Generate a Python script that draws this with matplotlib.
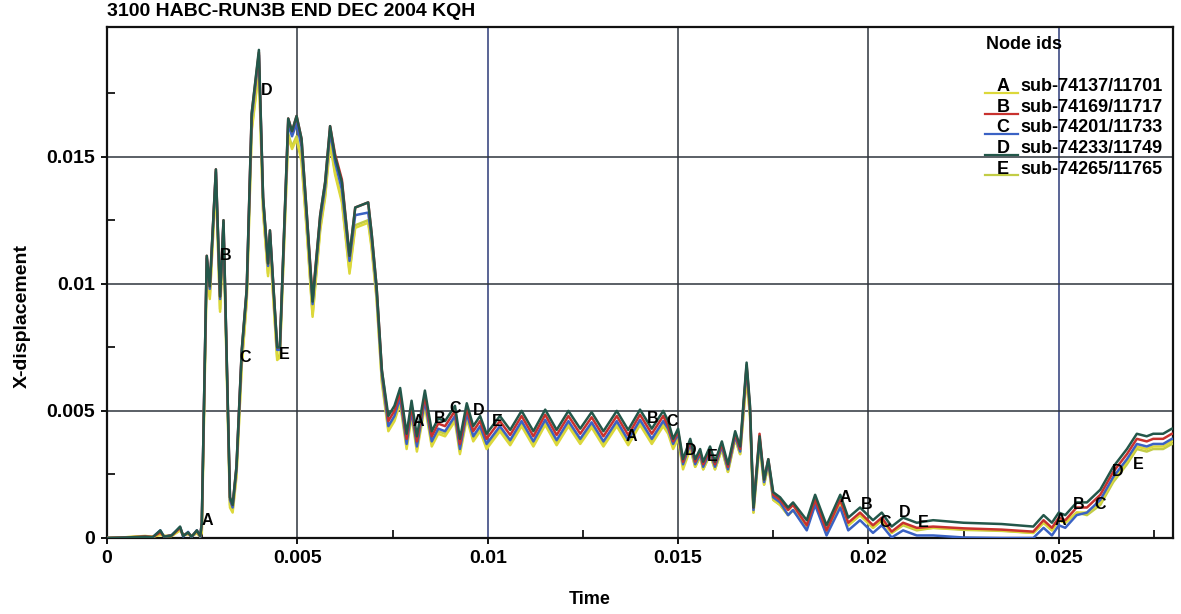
import numpy as np
import matplotlib
matplotlib.use("Agg")
import matplotlib.pyplot as plt
from matplotlib.ticker import FixedLocator, FixedFormatter

plt.rcParams['font.family'] = ['Liberation Sans', 'DejaVu Sans']
plt.rcParams['font.weight'] = 'bold'

# time axis (s), shared by all nodes
t_s = [0.0, 0.0005, 0.0010, 0.0012, 0.0014, 0.0015, 0.0017, 0.00192, 0.0020, 0.00213, 0.00222, 0.00236, 0.00245, 0.00249,
       0.00262, 0.00270, 0.00286, 0.00297, 0.00306, 0.00323, 0.00330, 0.00340, 0.00354, 0.00367, 0.00380, 0.00399, 0.00410, 0.00423, 0.00428, 0.00447, 0.00454,
       0.00476, 0.00486, 0.00498, 0.00511, 0.00525, 0.00540, 0.00560, 0.00573, 0.00586, 0.00599, 0.00617, 0.00637, 0.00652, 0.00686, 0.00695, 0.00708, 0.00722,
       0.00739, 0.00755, 0.00770, 0.00787, 0.00800, 0.00814, 0.00835, 0.00853, 0.00870, 0.00888, 0.00914, 0.00927, 0.00945, 0.00962, 0.00980, 0.00997, 0.01032, 0.01059,
       0.01089, 0.01120, 0.01151, 0.01181, 0.01212, 0.01243, 0.01273, 0.01304, 0.01339, 0.01369, 0.01400, 0.01431, 0.01461,
       0.01474, 0.01487, 0.01500, 0.01513, 0.01532, 0.01545, 0.01558, 0.01566, 0.01584, 0.01597, 0.01615, 0.01631, 0.01650, 0.01663, 0.01680, 0.01689, 0.01698,
       0.01714, 0.01726, 0.01737, 0.01750, 0.01768, 0.01789, 0.01802, 0.01838, 0.01860, 0.01890, 0.01926, 0.01947, 0.01978, 0.02012, 0.02035, 0.02061, 0.02091, 0.02127, 0.02170, 0.02250, 0.02350, 0.02433,
       0.02460, 0.02482, 0.02500, 0.02517, 0.02547, 0.02574, 0.02609, 0.02643, 0.02679, 0.02705, 0.02731, 0.02748, 0.02774, 0.02797, 0.02800]

# X-displacement per node
disp_a = [0.0, 0.00003, 0.00008, 0.00005, 0.00012, 0.00008, 0.00008, 0.00030, 0.00012, 0.00015, 0.00008, 0.00018, 0.00006, 0.0002,
          0.0104, 0.0094, 0.0140, 0.0089, 0.0120, 0.0012, 0.0010, 0.0024, 0.0068, 0.0093, 0.0160, 0.0184, 0.0128, 0.0103, 0.0115, 0.0070, 0.0071,
          0.0158, 0.0153, 0.0157, 0.0148, 0.0120, 0.0087, 0.0121, 0.0134, 0.0155, 0.0143, 0.0132, 0.0104, 0.0122, 0.0124, 0.0114, 0.0094, 0.0061,
          0.0042, 0.0046, 0.0053, 0.0035, 0.0048, 0.0034, 0.0052, 0.0036, 0.0041, 0.0040, 0.0046, 0.0033, 0.0047, 0.0038, 0.0042, 0.0035, 0.0042, 0.00365,
          0.0044, 0.0036, 0.00445, 0.00365, 0.0044, 0.0037, 0.00435, 0.0036, 0.0044, 0.00365, 0.00445, 0.0037, 0.0044,
          0.0041, 0.0035, 0.0039, 0.0027, 0.0035, 0.0028, 0.0032, 0.0027, 0.0033, 0.0027, 0.0035, 0.0026, 0.0039, 0.0033, 0.0063, 0.0048, 0.0010,
          0.0037, 0.0021, 0.0029, 0.0015, 0.0013, 0.0009, 0.0011, 0.0004, 0.0014, 0.0002, 0.0014, 0.0005, 0.0009, 0.0004, 0.0007, 0.0002, 0.00055, 0.00035, 0.0004, 0.00035, 0.0003, 0.0002,
          0.0006, 0.0003, 0.0007, 0.0006, 0.0010, 0.0010, 0.0014, 0.0023, 0.0030, 0.0036, 0.0035, 0.0036, 0.0036, 0.0038, 0.0038]

disp_b = [0.0, 0.00002, 0.00006, 0.00004, 0.00022, 0.00006, 0.00010, 0.00040, 0.00010, 0.00020, 0.00006, 0.00028, 0.00008, 0.0006,
          0.0111, 0.0099, 0.0145, 0.0095, 0.0125, 0.0016, 0.0013, 0.0028, 0.0074, 0.0098, 0.0167, 0.0191, 0.0134, 0.0108, 0.0121, 0.0075, 0.0075,
          0.0165, 0.0160, 0.0166, 0.0157, 0.0127, 0.0094, 0.0127, 0.0140, 0.0162, 0.0151, 0.0141, 0.0111, 0.0130, 0.0132, 0.0120, 0.0099, 0.0066,
          0.0046, 0.0050, 0.0057, 0.0039, 0.0052, 0.0038, 0.0056, 0.0040, 0.0045, 0.0044, 0.0050, 0.0037, 0.0051, 0.0042, 0.0046, 0.0039, 0.0046, 0.00405,
          0.0048, 0.0040, 0.00485, 0.00405, 0.0048, 0.0041, 0.00475, 0.0040, 0.0048, 0.00405, 0.00485, 0.0041, 0.0048,
          0.0044, 0.0038, 0.0042, 0.0030, 0.0038, 0.0030, 0.0034, 0.0029, 0.0035, 0.0029, 0.0037, 0.0028, 0.0041, 0.0035, 0.0068, 0.0051, 0.0012,
          0.0041, 0.0023, 0.0031, 0.0017, 0.0015, 0.0011, 0.0013, 0.0005, 0.0015, 0.0003, 0.0015, 0.0006, 0.0010, 0.0005, 0.0008, 0.00025, 0.0006, 0.0004, 0.00045, 0.00038, 0.00033, 0.00025,
          0.0007, 0.0004, 0.0008, 0.0007, 0.0012, 0.0012, 0.0017, 0.0026, 0.0033, 0.0039, 0.0038, 0.0039, 0.0039, 0.0041, 0.0041]

disp_c = [0.0, 0.00001, 0.00004, 0.00003, 0.00030, 0.00004, 0.00012, 0.00042, 0.00006, 0.00024, 0.00003, 0.00030, 0.00005, 0.0006,
          0.0110, 0.0098, 0.0144, 0.0094, 0.0124, 0.0015, 0.0012, 0.0027, 0.0073, 0.0097, 0.0165, 0.0190, 0.0133, 0.0107, 0.0120, 0.0074, 0.0074,
          0.0163, 0.0158, 0.0163, 0.0154, 0.0125, 0.0092, 0.0125, 0.0138, 0.0160, 0.0148, 0.0137, 0.0109, 0.0127, 0.0128, 0.0118, 0.0097, 0.0064,
          0.0044, 0.0048, 0.0055, 0.0037, 0.0050, 0.0036, 0.0054, 0.0038, 0.0043, 0.0042, 0.0048, 0.0035, 0.0049, 0.0040, 0.0044, 0.0037, 0.0044, 0.00385,
          0.0046, 0.0038, 0.00465, 0.00385, 0.0046, 0.0039, 0.00455, 0.0038, 0.0046, 0.00385, 0.00465, 0.0039, 0.0046,
          0.0043, 0.0037, 0.0041, 0.0029, 0.0037, 0.0029, 0.0033, 0.0028, 0.0034, 0.0028, 0.0036, 0.0027, 0.0040, 0.0034, 0.0067, 0.0050, 0.0011,
          0.0039, 0.0022, 0.0030, 0.0016, 0.0014, 0.0009, 0.0011, 0.0003, 0.0013, 0.0001, 0.0012, 0.0003, 0.0007, 0.0002, 0.0005, 0.00002, 0.0003, 0.0001, 0.0001, 0.00002, 0.0, 0.0,
          0.0004, 0.0001, 0.0005, 0.0004, 0.0009, 0.0010, 0.0015, 0.0024, 0.0031, 0.0037, 0.0036, 0.0037, 0.0037, 0.0039, 0.0039]

disp_d = [0.0, 0.00002, 0.00005, 0.00003, 0.00030, 0.00005, 0.00010, 0.00045, 0.00008, 0.00022, 0.00005, 0.00030, 0.00008, 0.0006,
          0.0111, 0.0099, 0.0145, 0.0095, 0.0125, 0.0016, 0.0013, 0.0028, 0.0074, 0.0098, 0.0167, 0.0192, 0.0134, 0.0108, 0.0121, 0.0075, 0.0075,
          0.0165, 0.0160, 0.0166, 0.0157, 0.0127, 0.0093, 0.0127, 0.0140, 0.0162, 0.0150, 0.0140, 0.0111, 0.0130, 0.0132, 0.0120, 0.0099, 0.0066,
          0.0048, 0.0052, 0.0059, 0.0041, 0.0054, 0.0040, 0.0058, 0.0042, 0.0047, 0.0046, 0.0052, 0.0039, 0.0053, 0.0044, 0.0048, 0.0041, 0.0048, 0.00425,
          0.0050, 0.0042, 0.00505, 0.00425, 0.0050, 0.0043, 0.00495, 0.0042, 0.0050, 0.00425, 0.00505, 0.0043, 0.0050,
          0.0046, 0.0039, 0.0043, 0.0031, 0.0039, 0.0031, 0.0035, 0.0030, 0.0036, 0.0030, 0.0038, 0.0029, 0.0042, 0.0036, 0.0069, 0.0052, 0.0012,
          0.0040, 0.0023, 0.0031, 0.0018, 0.0016, 0.0012, 0.0014, 0.0007, 0.0017, 0.0005, 0.0017, 0.0008, 0.0012, 0.0007, 0.0010, 0.00045, 0.0008, 0.0006, 0.0007, 0.0006, 0.00055, 0.00045,
          0.0009, 0.0006, 0.0010, 0.0009, 0.0014, 0.0014, 0.0019, 0.0028, 0.0035, 0.0041, 0.0040, 0.0041, 0.0041, 0.0043, 0.0043]

disp_e = [0.0, 0.00003, 0.00007, 0.00005, 0.00015, 0.00008, 0.00008, 0.00032, 0.00012, 0.00016, 0.00008, 0.00020, 0.00006, 0.0003,
          0.0106, 0.0095, 0.0141, 0.0090, 0.0121, 0.0013, 0.0011, 0.0025, 0.0069, 0.0094, 0.0161, 0.0185, 0.0129, 0.0104, 0.0116, 0.0071, 0.0072,
          0.0159, 0.0154, 0.0158, 0.0149, 0.0121, 0.0088, 0.0122, 0.0135, 0.0156, 0.0144, 0.0133, 0.0105, 0.0123, 0.0125, 0.0115, 0.0095, 0.0062,
          0.0043, 0.0047, 0.0054, 0.0036, 0.0049, 0.0035, 0.0053, 0.0037, 0.0042, 0.0041, 0.0047, 0.0034, 0.0048, 0.0039, 0.0043, 0.0036, 0.0043, 0.00375,
          0.0045, 0.0037, 0.00455, 0.00375, 0.0045, 0.0038, 0.00445, 0.0037, 0.0045, 0.00375, 0.00455, 0.0038, 0.0045,
          0.0042, 0.0036, 0.0040, 0.0028, 0.0036, 0.0028, 0.0032, 0.0027, 0.0033, 0.0027, 0.0035, 0.0026, 0.0039, 0.0033, 0.0064, 0.0048, 0.0010,
          0.0037, 0.0021, 0.0029, 0.0015, 0.0013, 0.0009, 0.0011, 0.0004, 0.0014, 0.0002, 0.0014, 0.0005, 0.0009, 0.0004, 0.0007, 0.0002, 0.0005, 0.0003, 0.0004, 0.00032, 0.00028, 0.0002,
          0.0006, 0.0003, 0.0007, 0.0006, 0.0010, 0.0009, 0.0013, 0.0022, 0.0029, 0.0035, 0.0034, 0.0035, 0.0035, 0.0037, 0.0037]

node_letters = ['A', 'B', 'C', 'D', 'E']
node_names = ['sub-74137/11701', 'sub-74169/11717', 'sub-74201/11733', 'sub-74233/11749', 'sub-74265/11765']
node_colors = ['#dcd83a', '#c8322e', '#3a62c4', '#23574a', '#c2cc46']

# where the little letter markers sit on the curves
label_t = {
    'A': [0.00263, 0.00817, 0.01377, 0.01939, 0.02503],
    'B': [0.00313, 0.00875, 0.01434, 0.01996, 0.02551],
    'C': [0.00363, 0.00914, 0.01484, 0.02044, 0.02609],
    'D': [0.00420, 0.00975, 0.01532, 0.02096, 0.02656],
    'E': [0.00465, 0.01025, 0.01589, 0.02144, 0.02708],
}
label_v = {
    'A': [0.00067, 0.00457, 0.0040, 0.00161, 0.0007],
    'B': [0.0111, 0.0047, 0.0047, 0.0013, 0.0013],
    'C': [0.0071, 0.0051, 0.0046, 0.0006, 0.0013],
    'D': [0.0176, 0.0050, 0.00346, 0.0010, 0.0026],
    'E': [0.0072, 0.0046, 0.0032, 0.0006, 0.0029],
}

x_ticks = [0.0, 0.005, 0.01, 0.015, 0.02, 0.025]
x_ticklabels = ['0', '0.005', '0.01', '0.015', '0.02', '0.025']
y_ticks = [0.0, 0.005, 0.01, 0.015]
y_ticklabels = ['0', '0.005', '0.01', '0.015']
x_minor = [0.0025, 0.0075, 0.0125, 0.0175, 0.0225, 0.0275]
y_minor = [0.0025, 0.0075, 0.0125, 0.0175]

fig = plt.figure(figsize=(11.81, 6.14), dpi=100)
ax = fig.add_axes([107 / 1181, 1 - 538 / 614, 1066 / 1181, 511 / 614])

series = [disp_a, disp_b, disp_c, disp_d, disp_e]
# yellow ones first so the darker curves sit on top
for i in [4, 0, 2, 1, 3]:
    ax.plot(t_s, series[i], color=node_colors[i], lw=1.8, zorder=3)

for letter in node_letters:
    for tt, vv in zip(label_t[letter], label_v[letter]):
        ax.text(tt, vv, letter, fontsize=11.5, fontweight='bold', color='black',
                ha='center', va='center', zorder=5)

ax.set_xlim(0, 0.028)
ax.set_ylim(0, 0.0201)

ax.xaxis.set_major_locator(FixedLocator(x_ticks))
ax.xaxis.set_major_formatter(FixedFormatter(x_ticklabels))
ax.yaxis.set_major_locator(FixedLocator(y_ticks))
ax.yaxis.set_major_formatter(FixedFormatter(y_ticklabels))
ax.xaxis.set_minor_locator(FixedLocator(x_minor))
ax.yaxis.set_minor_locator(FixedLocator(y_minor))

ax.tick_params(which='major', direction='out', length=4.5, width=1.3, labelsize=14, pad=4)
ax.tick_params(which='minor', direction='in', length=6, width=1.2)
for lab in ax.get_xticklabels() + ax.get_yticklabels():
    lab.set_fontweight('bold')

ax.grid(True, which='major', color='#2e343c', lw=1.1)
ax.set_axisbelow(True)
gl = ax.get_xgridlines()
gl[2].set_color('#2c3a78')
gl[5].set_color('#2c3a78')
gl[0].set_visible(False)
ax.get_ygridlines()[0].set_visible(False)

for sp in ax.spines.values():
    sp.set_linewidth(1.6)
    sp.set_color('#111111')

ax.set_xlabel('Time', fontsize=13, fontweight='bold', va='center')
ax.xaxis.set_label_coords(0.453, -0.121)
ax.set_ylabel('X-displacement', fontsize=14, fontweight='bold', va='center')
ax.yaxis.set_label_coords(-0.0797, 0.434)

fig.text(107 / 1181, 1 - 12 / 614, '3100 HABC-RUN3B END DEC 2004 KQH',
         fontsize=14, fontweight='bold', ha='left', va='center')

# legend block, drawn by hand: coloured stroke under the letter
ax.text(0.8246, 0.9667, 'Node ids', transform=ax.transAxes, fontsize=13,
        fontweight='bold', ha='left', va='center')
for i, (letter, name) in enumerate(zip(node_letters, node_names)):
    yy = 0.8832 - i * 0.0403
    ax.plot([0.8236, 0.8546], [yy - 0.0125, yy - 0.0125], transform=ax.transAxes,
            color=node_colors[i], lw=1.6, clip_on=False)
    ax.text(0.8405, yy, letter, transform=ax.transAxes, fontsize=13,
            fontweight='bold', ha='center', va='center')
    ax.text(0.8565, yy, name, transform=ax.transAxes, fontsize=13,
            fontweight='bold', ha='left', va='center')

fig.savefig('out.png', dpi=100, facecolor='white')
